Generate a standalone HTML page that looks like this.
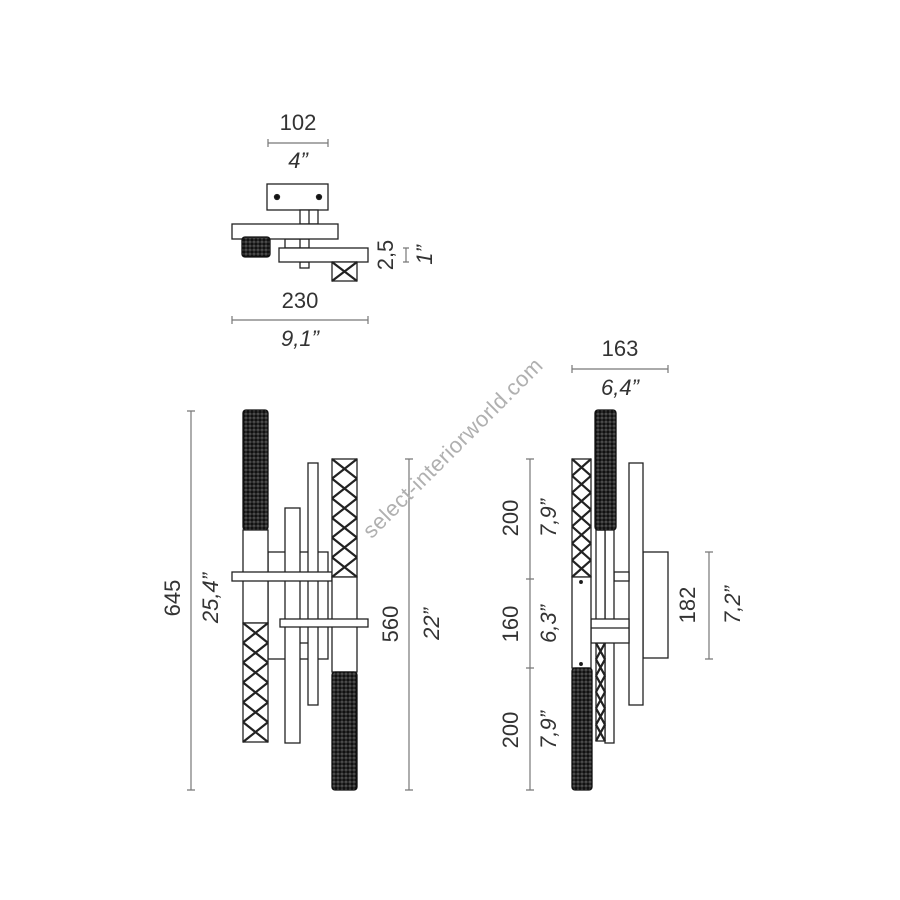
<!DOCTYPE html>
<html><head><style>
html,body{margin:0;padding:0;background:#fff;}
svg{display:block;}
text{font-family:"Liberation Sans",sans-serif;fill:#333;font-size:22px;}
.it{font-style:italic;}
</style></head><body>
<svg id="s" width="900" height="900" viewBox="0 0 900 900" xmlns="http://www.w3.org/2000/svg">
<defs>
<pattern id="bead" patternUnits="userSpaceOnUse" width="4" height="4">
<rect width="4" height="4" fill="#111"/><circle cx="2" cy="2" r="1.1" fill="none" stroke="#777" stroke-width="0.6"/>
</pattern>
</defs>
<g id="g" fill="#fff" stroke="#222" stroke-width="1.3"></g>
<g stroke="#777" stroke-width="1.2" fill="none">
<path d="M268 143H328M268 139V147M328 139V147"/>
<path d="M232 320H368M232 316V324M368 316V324"/>
<path d="M406 248V262M403 248H409M403 262H409"/>
<path d="M191 411V790M187 411H195M187 790H195"/>
<path d="M409 459V790M405 459H413M405 790H413"/>
<path d="M572 369H668M572 365V373M668 365V373"/>
<path d="M530 459V790M526 459H534M526 579H534M526 668H534M526 790H534"/>
<path d="M709 552V659M705 552H713M705 659H713"/>
</g>
<text x="298" y="130" text-anchor="middle">102</text>
<text x="298" y="168" text-anchor="middle" class="it">4”</text>
<text x="300" y="308" text-anchor="middle">230</text>
<text x="300" y="346" text-anchor="middle" class="it">9,1”</text>
<text transform="translate(393,255) rotate(-90)" text-anchor="middle">2,5</text>
<text transform="translate(432,255) rotate(-90)" text-anchor="middle" class="it">1”</text>
<text transform="translate(180,598) rotate(-90)" text-anchor="middle">645</text>
<text transform="translate(218,598) rotate(-90)" text-anchor="middle" class="it">25,4”</text>
<text transform="translate(398,624) rotate(-90)" text-anchor="middle">560</text>
<text transform="translate(439,624) rotate(-90)" text-anchor="middle" class="it">22”</text>
<text x="620" y="356" text-anchor="middle">163</text>
<text x="620" y="395" text-anchor="middle" class="it">6,4”</text>
<text transform="translate(518,518) rotate(-90)" text-anchor="middle">200</text>
<text transform="translate(556,518) rotate(-90)" text-anchor="middle" class="it">7,9”</text>
<text transform="translate(518,624) rotate(-90)" text-anchor="middle">160</text>
<text transform="translate(556,624) rotate(-90)" text-anchor="middle" class="it">6,3”</text>
<text transform="translate(518,730) rotate(-90)" text-anchor="middle">200</text>
<text transform="translate(556,730) rotate(-90)" text-anchor="middle" class="it">7,9”</text>
<text transform="translate(695,605) rotate(-90)" text-anchor="middle">182</text>
<text transform="translate(740,605) rotate(-90)" text-anchor="middle" class="it">7,2”</text>
<text transform="translate(458,453) rotate(-45)" text-anchor="middle" style="fill:#b0b0b0;font-size:22px;letter-spacing:0.5px">select-interiorworld.com</text>
</svg>
<script>
var g=document.getElementById('g');var out='';
function R(x,y,w,h){out+='<rect x="'+x+'" y="'+y+'" width="'+w+'" height="'+h+'"/>';}
function B(x,y,w,h){out+='<rect x="'+x+'" y="'+y+'" width="'+w+'" height="'+h+'" rx="3" fill="url(#bead)" stroke="#111"/>';}
function X(x,y,w,h,n){R(x,y,w,h);var ch=h/n,d='';for(var i=0;i<n;i++){var yy=y+i*ch;d+='M'+x+' '+yy+'L'+(x+w)+' '+(yy+ch)+'M'+(x+w)+' '+yy+'L'+x+' '+(yy+ch);}out+='<path d="'+d+'" stroke-width="2.2"/>';}
function L(d){out+='<path d="'+d+'" fill="none"/>';}
// top view
R(267,184,61,26);out+='<circle cx="277" cy="197" r="2.5" fill="#111"/><circle cx="319" cy="197" r="2.5" fill="#111"/>';
R(300,210,18,14);L('M309 210V224');
R(285,239,24,9);L('M300 239V248');
R(300,262,9,6);
R(232,224,106,15);
B(242,237,28,20);
R(279,248,89,14);
X(332,262,25,19,1);
// front view
R(268,552,60,107);
R(308,463,10,242);
R(285,508,15,235);
L('M300 643H308');
B(243,410,25,120);R(243,530,25,93);X(243,623,25,119,6);
R(232,572,100,9);
X(332,459,25,118,6);R(332,577,25,95);B(332,672,25,118);
R(280,619,88,8);
// side view
R(643,552,25,106);
R(629,463,14,242);
R(614,572,15,9);
R(605,508,9,235);
R(596,530,9,90);X(596,643,9,98,6);
B(595,410,21,120);
R(591,619,38,24);L('M591 628H629');
X(572,459,19,118,7);R(572,577,19,91);B(572,668,20,122);
out+='<circle cx="581" cy="582" r="1.3" fill="#111"/><circle cx="581" cy="664" r="1.3" fill="#111"/>';
g.innerHTML=out;
</script>
</body></html>
